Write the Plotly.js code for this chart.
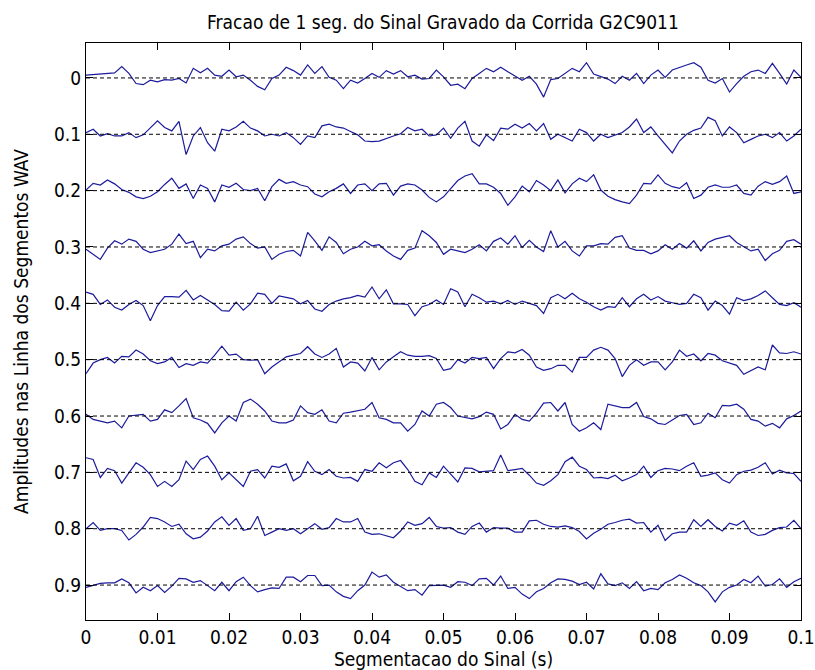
<!DOCTYPE html>
<html>
<head>
<meta charset="utf-8">
<script src="https://cdn.plot.ly/plotly-3.0.1.min.js"></script>
<style>html,body{margin:0;padding:0;background:#fff;}#chart{width:815px;height:670px;}</style>
</head>
<body>
<div id="chart"></div>
<script>
// Line offsets (one WAV segment per line) and tick labels
const levels = [0, 0.1, 0.2, 0.3, 0.4, 0.5, 0.6, 0.7, 0.8, 0.9];
const yTickLabels = ['0', '0.1', '0.2', '0.3', '0.4', '0.5', '0.6', '0.7', '0.8', '0.9'];
const xTickVals = [0, 0.01, 0.02, 0.03, 0.04, 0.05, 0.06, 0.07, 0.08, 0.09, 0.1];
const xTickLabels = ['0', '0.01', '0.02', '0.03', '0.04', '0.05', '0.06', '0.07', '0.08', '0.09', '0.1'];
const tStart = 0;      // s
const tStep = 0.001;   // s between samples
const ampUnit = 0.001; // sample values below are in thousandths (positive = down, axis is reversed)

// Signal amplitudes, one array per line, 101 samples over 0..0.1 s
const seg0 = [-5,-6,-7,-8,-9,-20,-8,10,12,4,7,3,4,1,9,-17,-9,-17,-5,-3,-14,-2,-5,4,15,21,1,-5,-19,-13,-5,-23,-8,-20,-1,4,19,4,9,1,-8,-1,-13,-7,-13,-2,-5,2,1,-14,-2,13,11,19,1,-8,-17,-11,-19,-11,-3,4,-3,11,34,3,1,-8,-17,-11,-27,-7,-2,2,10,-3,4,-8,10,-5,-14,-1,-14,-19,-23,-27,-19,4,9,1,25,10,-3,-11,-14,-8,-26,-8,11,-14,-1];
const seg1 = [-3,-9,3,-1,3,3,-3,6,1,-12,-24,-12,-6,-23,36,3,-12,15,30,-9,-6,-13,-23,-11,-6,3,0,3,-3,6,18,3,6,-15,-18,-13,-11,-5,1,12,13,12,7,3,-1,-12,-6,-9,3,1,-11,7,-11,-23,12,21,1,11,-11,-9,-18,-11,-19,-6,-19,9,0,6,12,-9,-3,12,0,6,1,-3,-13,-27,-3,-13,3,18,33,12,0,-7,-11,-30,-24,3,-13,-3,15,9,3,0,6,-3,12,3,-9];
const seg2 = [-1,-13,-10,-19,-12,-2,3,11,14,10,2,-11,-22,-4,-12,14,-10,-4,20,-10,-6,-13,-2,0,-4,18,-7,-20,-13,-16,-10,-7,6,11,2,-4,-12,5,-10,-12,0,-12,-13,8,-8,-12,-10,-1,12,20,11,-4,-18,-26,-30,-12,-12,-6,5,26,11,-8,2,-18,-10,0,-19,4,-12,-22,-16,-28,-1,10,16,20,23,8,-13,-12,-28,-13,-7,-4,-14,14,8,-6,-10,-6,-6,-10,5,8,-8,-16,-11,-16,-26,5,2];
const seg3 = [4,13,22,2,-11,-5,-14,-10,4,10,7,4,-5,-23,-6,-10,19,4,7,-2,-5,-14,-18,-6,2,0,22,13,8,6,16,-26,-11,6,-18,-8,12,4,0,-10,-2,-4,7,16,22,6,2,-29,-20,-8,13,4,7,10,4,-4,7,-10,-16,-5,-20,1,-12,0,8,-29,0,-10,7,16,-2,-2,-6,-5,-17,-20,2,6,6,12,7,-4,4,-6,2,-11,7,-8,-14,-17,-20,-8,0,7,4,24,12,6,-10,-13,-5];
const seg4 = [-20,-16,2,-6,7,12,2,-5,4,31,4,-12,-12,-11,-23,-6,-14,-6,2,13,14,-2,12,1,-18,-16,0,-13,-11,-8,1,-5,10,14,2,-4,-8,-10,-14,-11,-29,-8,-24,1,1,2,22,6,2,-6,2,-26,-20,6,-16,-10,-2,-4,1,-5,2,-4,0,4,18,-10,-16,-8,-18,-8,-2,6,12,6,7,-10,6,-8,-16,-6,-12,-4,-1,2,0,-16,-10,12,-4,4,19,-10,-5,-8,-14,-22,-10,2,4,-1,7];
const seg5 = [25,6,0,-4,6,-6,-5,-17,-10,2,7,4,-4,14,7,10,4,6,-8,-24,-8,-10,0,1,0,25,13,4,-5,-8,-11,-23,-10,-4,-10,-20,13,4,6,20,-4,18,4,-5,-14,-8,-6,-6,-7,-2,19,16,0,6,-4,-2,-4,16,-2,-14,-12,-18,-8,13,19,16,10,10,22,-4,-4,-17,-22,-17,-2,30,10,0,10,4,4,18,4,-17,-6,-10,2,-11,-8,2,6,10,26,19,13,18,-26,-12,-11,-14,-10];
const seg6 = [-3,6,9,12,9,21,0,-2,-3,9,6,-11,-6,-18,-31,3,7,13,30,12,0,9,-24,-30,-21,-9,9,12,12,7,-18,-6,-3,-11,9,12,-5,-7,-9,-12,-24,3,6,12,12,27,15,-9,0,-21,-24,-15,0,3,5,1,-7,-3,23,15,-3,6,9,-5,-23,-24,-9,-24,15,27,21,12,24,-21,-18,-15,-15,-24,1,5,13,15,7,-1,-3,15,12,-5,3,-19,-18,-21,-12,6,9,18,13,21,5,-1,-9];
const seg7 = [-26,-23,9,-7,-3,19,1,-17,-9,4,25,16,25,13,-20,-5,-23,-29,-11,13,1,13,25,-2,-5,10,-11,-9,-15,15,7,-19,-2,4,-5,7,10,9,16,-5,-2,-17,-8,-17,-21,-5,16,22,1,9,-11,3,17,-8,-7,-1,-2,-3,-31,-3,-5,-7,5,19,23,15,4,-19,-27,-11,-5,10,9,11,5,15,10,4,-11,9,-3,-7,-6,-3,-11,-17,7,5,1,13,19,4,-2,-4,-9,-17,3,-4,1,2,16];
const seg8 = [0,-11,3,0,0,3,20,10,-3,-20,-18,-12,-4,-8,9,18,15,4,-12,-21,-6,-18,3,0,-22,12,6,0,3,0,9,0,-9,1,-2,-18,-12,-12,-18,6,10,9,12,16,4,-12,-6,-9,-20,-4,-1,-2,6,10,-4,-10,6,-2,-1,-1,6,6,-14,-15,-8,-4,-3,-5,-2,5,18,8,1,-8,-11,-15,-17,-10,-11,6,-6,21,9,6,6,-16,-4,-16,-4,4,-10,-6,-14,6,12,10,3,-2,-3,-15,0];
const seg9 = [4,0,-3,-4,-4,-11,-4,14,4,10,1,13,2,-12,-11,-5,-8,1,10,-5,10,-6,-14,1,12,8,5,6,-14,-14,-6,-17,-17,1,0,12,20,24,10,0,-23,-14,-18,-5,2,10,8,18,1,0,0,4,-6,-5,1,-11,-12,0,-16,6,4,16,24,12,6,-4,-11,-10,-7,-1,-5,7,-20,-2,1,-4,6,-6,10,6,8,-4,-10,-18,-12,-4,1,12,30,12,4,0,-10,-4,-16,2,-1,-11,4,-6,-12];
const segments = [seg0, seg1, seg2, seg3, seg4, seg5, seg6, seg7, seg8, seg9];

// Pick the narrowest installed sans font (the original uses a tall, condensed face)
function pickFont(cands) {
  const c = document.createElement('canvas').getContext('2d');
  const probe = 'abcdefghijklmnopqrstuvwxyz0123456789';
  c.font = '40px monospace';
  const base = c.measureText(probe).width;
  for (const f of cands) {
    c.font = '40px "' + f + '", monospace';
    if (Math.abs(c.measureText(probe).width - base) > 0.5) return f;
  }
  return 'sans-serif';
}
const fam = pickFont(['Liberation Sans Narrow', 'Arial Narrow', 'Nimbus Sans Narrow', 'DejaVu Sans Condensed', 'Liberation Sans']);
const font = '"' + fam + '", sans-serif';

const traces = [];
segments.forEach((seg, i) => {
  traces.push({
    type: 'scatter', mode: 'lines',
    x0: tStart, dx: tStep,
    y: seg.map(v => levels[i] + v * ampUnit),
    line: {color: '#1b1b9c', width: 1.2},
    hoverinfo: 'skip', showlegend: false
  });
});
levels.forEach(lv => {
  traces.push({
    type: 'scatter', mode: 'lines',
    x: [xTickVals[0], xTickVals[xTickVals.length - 1]],
    y: [lv, lv],
    line: {color: '#000000', width: 1, dash: '4px,3px'},
    hoverinfo: 'skip', showlegend: false
  });
});

const layout = {
  width: 815, height: 670,
  paper_bgcolor: '#ffffff', plot_bgcolor: '#ffffff',
  margin: {l: 86, r: 14, t: 43, b: 50},
  font: {family: font, size: 19, color: '#000000'},
  title: {text: 'Fracao de 1 seg. do Sinal Gravado da Corrida G2C9011',
          font: {family: font, size: 19, color: '#000'},
          x: 0.5435, xanchor: 'center', y: 0.967, yanchor: 'middle', yref: 'container'},
  xaxis: {
    range: [0, 0.1], tickvals: xTickVals, ticktext: xTickLabels,
    ticks: 'inside', ticklen: 7, tickcolor: '#000', tickwidth: 1,
    showline: true, linecolor: '#000', linewidth: 1, mirror: 'ticks',
    showgrid: false, zeroline: false,
    tickfont: {family: font, size: 19},
    title: {text: 'Segmentacao do Sinal (s)', font: {family: font, size: 19}, standoff: 4}
  },
  yaxis: {
    range: [0.962, -0.062], tickvals: levels, ticktext: yTickLabels,
    ticks: 'inside', ticklen: 7, tickcolor: '#000', tickwidth: 1,
    showline: true, linecolor: '#000', linewidth: 1, mirror: 'ticks',
    showgrid: false, zeroline: false,
    tickfont: {family: font, size: 19},
    title: {text: 'Amplitudes nas Linha dos Segmentos WAV', font: {family: font, size: 19}, standoff: 20}
  }
};
Plotly.newPlot('chart', traces, layout, {staticPlot: true, displayModeBar: false});
</script>
</body>
</html>
